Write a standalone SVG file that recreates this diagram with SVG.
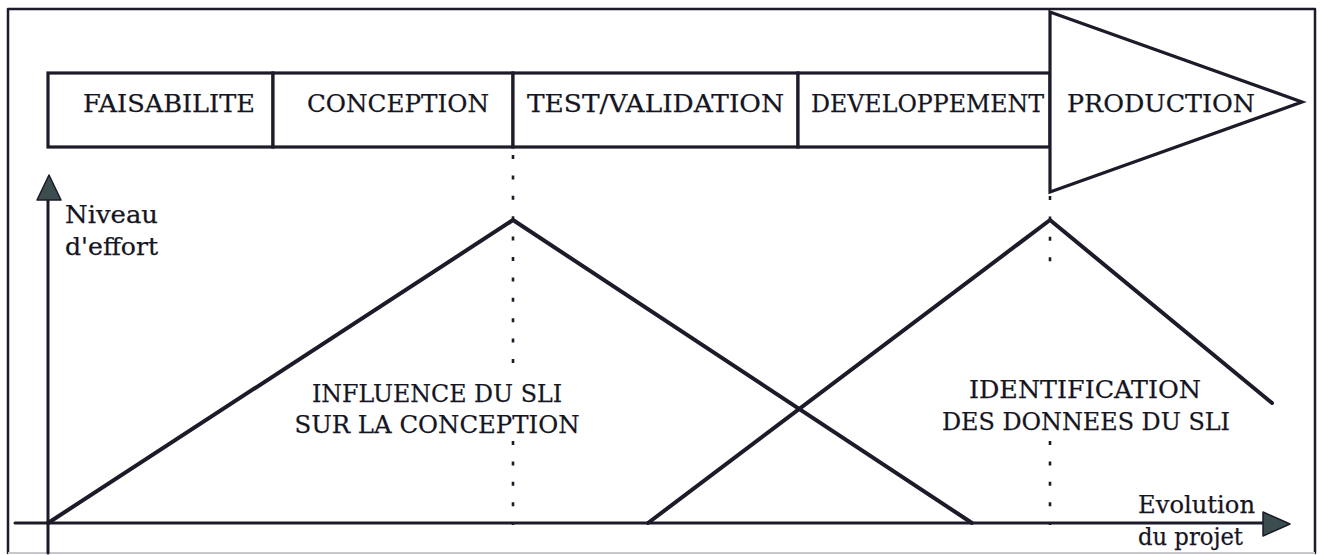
<svg xmlns="http://www.w3.org/2000/svg" width="1320" height="555" viewBox="0 0 1320 555">
<style>
.ln{stroke:#1b1b29;fill:none;stroke-linecap:round;stroke-linejoin:round}
.box{fill:#ffffff;stroke:#1b1b29;stroke-width:3.2}
.t{font-family:"DejaVu Serif","Liberation Serif",serif;font-size:25px;fill:#15151f;stroke:#15151f;stroke-width:0.25}
.dot{stroke:#1b1b29;stroke-width:2.6;stroke-dasharray:4 16.4;fill:none}
.head{fill:#3c4d4f;stroke:#1b1b29;stroke-width:1.5;stroke-linejoin:round}
</style>
<rect width="1320" height="555" fill="#ffffff"/>
<g id="frame">
<path class="ln" d="M8,553 L8,9 L1315,9 L1315,553" stroke-width="2.5"/>
<line x1="8" y1="553" x2="1315" y2="553" stroke="#c8c8cc" stroke-width="2"/>
</g>
<g id="phase-faisabilite">
<rect class="box" x="48" y="73" width="225" height="74"/>
<text class="t" x="83" y="112" textLength="172" lengthAdjust="spacingAndGlyphs">FAISABILITE</text>
</g>
<g id="phase-conception">
<rect class="box" x="273" y="73" width="240" height="74"/>
<text class="t" x="307" y="112" textLength="182" lengthAdjust="spacingAndGlyphs">CONCEPTION</text>
</g>
<g id="phase-test">
<rect class="box" x="513" y="73" width="285" height="74"/>
<text class="t" x="527" y="112" textLength="257" lengthAdjust="spacingAndGlyphs">TEST/VALIDATION</text>
</g>
<g id="phase-developpement">
<rect class="box" x="798" y="73" width="252" height="74"/>
<text class="t" x="811" y="112" textLength="233" lengthAdjust="spacingAndGlyphs">DEVELOPPEMENT</text>
</g>
<g id="phase-production">
<polygon class="box" points="1050,12 1302,102 1050,192" stroke-width="4"/>
<text class="t" x="1067" y="112" textLength="188" lengthAdjust="spacingAndGlyphs">PRODUCTION</text>
</g>
<g id="guides">
<line class="dot" x1="513" y1="155" x2="513" y2="370"/>
<line class="dot" x1="513" y1="441" x2="513" y2="525"/>
<line class="dot" x1="1050" y1="196" x2="1050" y2="270"/>
<line class="dot" x1="1050" y1="441" x2="1050" y2="525"/>
</g>
<g id="axes">
<line class="ln" x1="48" y1="553" x2="48" y2="198" stroke-width="3"/>
<polygon class="head" points="49,175 61,200 37,200"/>
<line class="ln" x1="15" y1="523" x2="1265" y2="523" stroke-width="3"/>
<polygon class="head" points="1290,524 1263,512 1263,536"/>
<text class="t" x="65" y="223" font-size="26" textLength="93" lengthAdjust="spacingAndGlyphs">Niveau</text>
<text class="t" x="65" y="255" font-size="26" textLength="93" lengthAdjust="spacingAndGlyphs">d'effort</text>
<text class="t" x="1138" y="513" font-size="26" textLength="117" lengthAdjust="spacingAndGlyphs">Evolution</text>
<text class="t" x="1138" y="545" font-size="26" textLength="105" lengthAdjust="spacingAndGlyphs">du projet</text>
</g>
<g id="connectors">
<polyline class="ln" stroke-width="4" points="48,523 513,220 972,523"/>
<polyline class="ln" stroke-width="4" points="648,523 1050,220 1272,403"/>
</g>
<g id="label-influence">
<rect x="290" y="372" width="295" height="68" fill="#ffffff"/>
<text class="t" x="437" y="402" text-anchor="middle" textLength="250" lengthAdjust="spacingAndGlyphs">INFLUENCE DU SLI</text>
<text class="t" x="437" y="433" text-anchor="middle" textLength="285" lengthAdjust="spacingAndGlyphs">SUR LA CONCEPTION</text>
</g>
<g id="label-identification">
<text class="t" x="1085" y="398" text-anchor="middle" textLength="232" lengthAdjust="spacingAndGlyphs">IDENTIFICATION</text>
<text class="t" x="1086" y="430" text-anchor="middle" textLength="288" lengthAdjust="spacingAndGlyphs">DES DONNEES DU SLI</text>
</g>
</svg>
